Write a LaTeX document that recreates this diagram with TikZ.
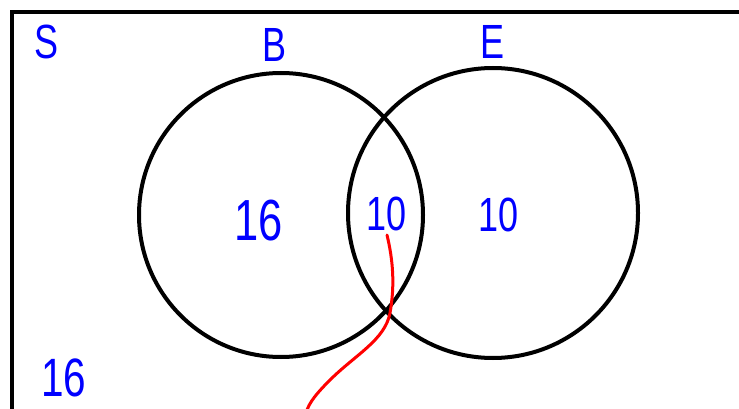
\documentclass[tikz,border=0pt]{standalone}
\usepackage{fontspec}
\setmainfont{Liberation Sans}
\usetikzlibrary{positioning, calc}

\begin{document}
\begin{tikzpicture}[x=1pt, y=-1pt,
    hand/.style={text=blue, font=\fontsize{48}{48}\selectfont, inner sep=0pt, xscale=0.75, transform shape},
    ring/.style={line width=4pt, black},
    pointer/.style={line width=3pt, red, line cap=round}]
    % Page
    \useasboundingbox (0,0) rectangle (739,409);
    \clip (0,0) rectangle (739,409);

    % Sample space frame
    \draw[line width=4.5pt] (12,430) -- (12,12) -- (760,12);

    % Circles B and E
    \coordinate (cB) at (281,215);
    \coordinate (cE) at (493,213);
    \draw[ring] (cB) circle (142);
    \draw[ring] (cE) circle (145);

    % Set labels
    \node[hand] (S) at (47,42) {S};
    \node[hand] (B) at (275,45) {B};
    \node[hand] (E) at (493,42) {E};

    % Counts
    \node[hand, font=\fontsize{58}{58}\selectfont] (onlyB) at (259,221) {16};
    \node[hand] (both) at (387,214) {10};
    \node[hand] (onlyE) at (499,215) {10};
    \node[hand, font=\fontsize{54}{54}\selectfont] (none) at (64,378) {16};

    % Pointer to the overlap
    \coordinate (tail) at (306,413);
    \draw[pointer] (387,235) .. controls (393,260) and (395,285) .. (390,313)
        .. controls (385,340) and (355,355) .. (330,380)
        .. controls (318,392) and (309,402) .. (tail);
\end{tikzpicture}
\end{document}
